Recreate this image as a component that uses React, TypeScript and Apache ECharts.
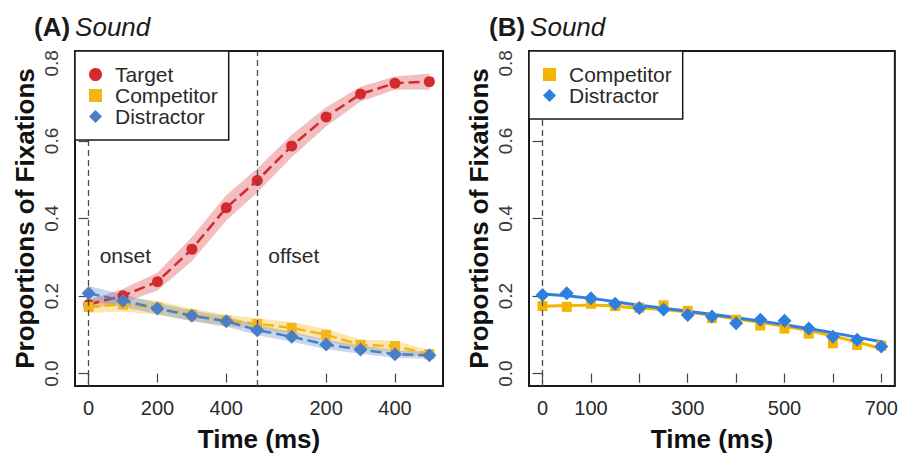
import React, { useEffect, useRef } from "react";
import * as echarts from "echarts";

// ---------- Data ----------
// Panel A: time points (ms from onset), offset at 490 ms
const timeA = [0, 100, 200, 300, 400, 490, 590, 690, 790, 890, 990];
const targetA = [0.178, 0.201, 0.237, 0.321, 0.428, 0.498, 0.587, 0.662, 0.721, 0.749, 0.753];
const targetLoA = [0.166, 0.183, 0.214, 0.290, 0.395, 0.467, 0.558, 0.637, 0.702, 0.732, 0.732];
const targetHiA = [0.190, 0.219, 0.260, 0.352, 0.460, 0.529, 0.616, 0.687, 0.740, 0.766, 0.774];
const competitorA = [0.172, 0.178, 0.170, 0.152, 0.137, 0.128, 0.118, 0.100, 0.074, 0.071, 0.050];
const competitorLoA = [0.156, 0.160, 0.152, 0.136, 0.122, 0.114, 0.103, 0.085, 0.060, 0.057, 0.040];
const competitorHiA = [0.188, 0.196, 0.188, 0.168, 0.152, 0.142, 0.133, 0.115, 0.088, 0.085, 0.060];
const distractorA = [0.207, 0.188, 0.168, 0.149, 0.135, 0.112, 0.095, 0.075, 0.062, 0.050, 0.047];
const distractorLoA = [0.188, 0.172, 0.153, 0.135, 0.121, 0.099, 0.082, 0.063, 0.051, 0.040, 0.038];
const distractorHiA = [0.226, 0.204, 0.183, 0.163, 0.148, 0.125, 0.108, 0.087, 0.073, 0.060, 0.056];
const eventTimesA = [0, 490];
const eventLabelsA = ["onset", "offset"];
const tickValuesA = [0, 200, 400, 690, 890];
const tickLabelsA = ["0", "200", "400", "200", "400"];

// Panel B
const timeB = [0, 50, 100, 150, 200, 250, 300, 350, 400, 450, 500, 550, 600, 650, 700];
const competitorB = [0.174, 0.172, 0.180, 0.174, 0.170, 0.176, 0.162, 0.143, 0.139, 0.124, 0.116, 0.103, 0.078, 0.074, 0.072];
const distractorB = [0.203, 0.207, 0.194, 0.180, 0.169, 0.165, 0.151, 0.147, 0.130, 0.139, 0.136, 0.116, 0.095, 0.087, 0.070];
const fitTimeB = [0, 100, 200, 300, 400, 500, 600, 700];
const competitorFitB = [0.174, 0.176, 0.169, 0.159, 0.141, 0.122, 0.097, 0.064];
const distractorFitB = [0.205, 0.194, 0.176, 0.161, 0.144, 0.126, 0.105, 0.082];
const tickValuesB = [0, 100, 200, 300, 400, 500, 600, 700];
const labelValuesB = [0, 100, 300, 500, 700];

const yTicks = [0, 0.2, 0.4, 0.6, 0.8];

// ---------- Styles ----------
const FONT = "'Liberation Sans', Arial, Helvetica, sans-serif";
const RED = "#d32a2f";
const RED_BAND = "rgba(214,52,56,0.32)";
const YEL = "#f4b41a";
const YEL_BAND = "rgba(250,190,40,0.38)";
const BLUE = "#4a7fc8";
const BLUE_BAND = "rgba(80,130,205,0.32)";
const BLUE_B = "#2e7fe0";
const YEL_B = "#f5b400";
const TEXT = "#2a2a2a";

function ribbon(xs: number[], lo: number[], hi: number[], color: string, axis: number) {
  return {
    type: "custom",
    xAxisIndex: axis,
    yAxisIndex: axis,
    silent: true,
    z: 1,
    data: xs.map((x, i) => [x, lo[i], hi[i]]),
    encode: { x: 0, y: [1, 2] },
    renderItem: (params: any, api: any) => {
      if (params.dataIndex !== 0) return null;
      const upper = xs.map((x, i) => api.coord([x, hi[i]]));
      const lower = xs.map((x, i) => api.coord([x, lo[i]])).reverse();
      return {
        type: "polygon",
        shape: { points: upper.concat(lower) },
        style: { fill: color },
      };
    },
  };
}

function xAxisCfg(grid: number, min: number, max: number, ticks: number[], labels: number[], fmt: (v: number) => string) {
  return {
    type: "value",
    gridIndex: grid,
    min,
    max,
    name: "Time (ms)",
    nameLocation: "middle",
    nameGap: 40,
    nameTextStyle: { fontFamily: FONT, fontSize: 26, fontWeight: "bold", color: "#111" },
    axisLine: { show: false },
    splitLine: { show: false },
    axisTick: { show: true, length: 9, customValues: ticks, lineStyle: { color: "#444", width: 1.2 } },
    axisLabel: {
      show: true,
      customValues: labels,
      margin: 12,
      fontFamily: FONT,
      fontSize: 20,
      color: TEXT,
      formatter: (v: number) => fmt(v),
    },
  };
}

function yAxisCfg(grid: number) {
  return {
    type: "value",
    gridIndex: grid,
    min: -0.032,
    max: 0.832,
    name: "Proportions of Fixations",
    nameLocation: "middle",
    nameRotate: 90,
    nameGap: 37,
    nameTextStyle: { fontFamily: FONT, fontSize: 26, fontWeight: "bold", color: "#111" },
    axisLine: { show: false },
    splitLine: { show: false },
    axisTick: { show: true, length: 10, customValues: yTicks, lineStyle: { color: "#444", width: 1.2 } },
    axisLabel: {
      show: true,
      customValues: yTicks,
      rotate: 90,
      margin: 14,
      fontFamily: FONT,
      fontSize: 19,
      color: "#3a3a3a",
      formatter: (v: number) => v.toFixed(1),
    },
  };
}

const dashedLine = { type: [6, 4], color: "#4a4a4a", width: 1.3 };

function titleCfg(label: string, left: number) {
  return {
    text: `{b|${label}}{i|Sound}`,
    left,
    top: 14,
    padding: 0,
    textStyle: {
      fontWeight: "normal",
      rich: {
        b: { fontFamily: FONT, fontSize: 26, fontWeight: "bold", color: "#1a1a1a" },
        i: { fontFamily: FONT, fontSize: 26, fontWeight: "normal", fontStyle: "italic", color: "#1a1a1a", padding: [0, 0, 0, 5] },
      },
    },
  };
}

export default function App() {
  const ref = useRef<HTMLDivElement>(null);

  useEffect(() => {
    if (!ref.current) return;
    const chart = echarts.init(ref.current, undefined, { renderer: "svg" });

    const legendText = {
      fontFamily: FONT,
      fontSize: 21,
      color: TEXT,
      lineHeight: 21,
      padding: [0, 0, 0, 8],
    };

    const legendBase = {
      orient: "vertical",
      selectedMode: false,
      itemWidth: 13,
      itemHeight: 13,
      itemGap: 0,
      padding: [13, 11, 13, 14],
      backgroundColor: "#fff",
      borderColor: "#1a1a1a",
      borderWidth: 1.5,
      borderRadius: 0,
      textStyle: legendText,
      z: 10,
    };

    const option: any = {
      animation: false,
      backgroundColor: "#fff",
      title: [titleCfg("(A)", 34), titleCfg("(B)", 489)],
      grid: [
        { left: 75, top: 51, width: 368, height: 346, show: true, borderColor: "#1a1a1a", borderWidth: 2, backgroundColor: "transparent" },
        { left: 529, top: 51, width: 368, height: 346, show: true, borderColor: "#1a1a1a", borderWidth: 2, backgroundColor: "transparent" },
      ],
      legend: [
        {
          ...legendBase,
          left: 75,
          top: 51,
          data: [
            { name: "Target", icon: "circle" },
            { name: "Competitor", icon: "rect" },
            { name: "Distractor", icon: "diamond" },
          ],
        },
        {
          ...legendBase,
          left: 529,
          top: 51,
          data: [
            { name: "Competitor", icon: "rect", itemStyle: { color: YEL_B } },
            { name: "Distractor", icon: "diamond", itemStyle: { color: BLUE_B } },
          ],
        },
      ],
      xAxis: [
        xAxisCfg(0, -39.6, 1029.6, tickValuesA, tickValuesA, (v) => tickLabelsA[tickValuesA.indexOf(v)] ?? ""),
        xAxisCfg(1, -28, 728, tickValuesB, labelValuesB, (v) => String(v)),
      ],
      yAxis: [yAxisCfg(0), yAxisCfg(1)],
      series: [
        ribbon(timeA, targetLoA, targetHiA, RED_BAND, 0),
        ribbon(timeA, competitorLoA, competitorHiA, YEL_BAND, 0),
        ribbon(timeA, distractorLoA, distractorHiA, BLUE_BAND, 0),
        {
          name: "Target",
          type: "line",
          xAxisIndex: 0,
          yAxisIndex: 0,
          z: 3,
          data: timeA.map((t, i) => [t, targetA[i]]),
          symbol: "circle",
          symbolSize: 11,
          itemStyle: { color: RED },
          lineStyle: { color: RED, width: 2.5, type: [11, 5] },
          markLine: {
            silent: true,
            symbol: ["none", "none"],
            label: { show: false },
            lineStyle: dashedLine,
            data: eventTimesA.map((t) => ({ xAxis: t })),
          },
          markPoint: {
            silent: true,
            symbol: "circle",
            symbolSize: 0,
            itemStyle: { color: "transparent" },
            label: {
              show: true,
              position: "right",
              distance: 11,
              fontFamily: FONT,
              fontSize: 21,
              color: TEXT,
              formatter: (p: any) => p.name,
            },
            data: eventTimesA.map((t, i) => ({ name: eventLabelsA[i], coord: [t, 0.304] })),
          },
        },
        {
          name: "Competitor",
          type: "line",
          xAxisIndex: 0,
          yAxisIndex: 0,
          z: 4,
          data: timeA.map((t, i) => [t, competitorA[i]]),
          symbol: "rect",
          symbolSize: 10,
          itemStyle: { color: YEL },
          lineStyle: { color: YEL, width: 2.5, type: [11, 5] },
        },
        {
          name: "Distractor",
          type: "line",
          xAxisIndex: 0,
          yAxisIndex: 0,
          z: 5,
          data: timeA.map((t, i) => [t, distractorA[i]]),
          symbol: "diamond",
          symbolSize: 14,
          itemStyle: { color: BLUE },
          lineStyle: { color: BLUE, width: 2.5, type: [11, 5] },
        },
        // Panel B
        {
          name: "Competitor fit",
          type: "line",
          xAxisIndex: 1,
          yAxisIndex: 1,
          z: 3,
          smooth: true,
          showSymbol: false,
          data: fitTimeB.map((t, i) => [t, competitorFitB[i]]),
          lineStyle: { color: YEL_B, width: 3 },
          itemStyle: { color: YEL_B },
          markLine: {
            silent: true,
            symbol: ["none", "none"],
            label: { show: false },
            lineStyle: dashedLine,
            data: [{ xAxis: timeB[0] }],
          },
        },
        {
          name: "Distractor fit",
          type: "line",
          xAxisIndex: 1,
          yAxisIndex: 1,
          z: 3,
          smooth: true,
          showSymbol: false,
          data: fitTimeB.map((t, i) => [t, distractorFitB[i]]),
          lineStyle: { color: BLUE_B, width: 3 },
          itemStyle: { color: BLUE_B },
        },
        {
          name: "Competitor",
          type: "scatter",
          xAxisIndex: 1,
          yAxisIndex: 1,
          z: 4,
          data: timeB.map((t, i) => [t, competitorB[i]]),
          symbol: "rect",
          symbolSize: 10,
          itemStyle: { color: YEL_B, opacity: 1 },
        },
        {
          name: "Distractor",
          type: "scatter",
          xAxisIndex: 1,
          yAxisIndex: 1,
          z: 5,
          data: timeB.map((t, i) => [t, distractorB[i]]),
          symbol: "diamond",
          symbolSize: 14,
          itemStyle: { color: BLUE_B, opacity: 1 },
        },
      ],
    };

    chart.setOption(option);
    return () => chart.dispose();
  }, []);

  return (
    <div
      ref={ref}
      style={{ position: "fixed", left: 0, top: 0, width: 901, height: 457, background: "#fff" }}
    />
  );
}
